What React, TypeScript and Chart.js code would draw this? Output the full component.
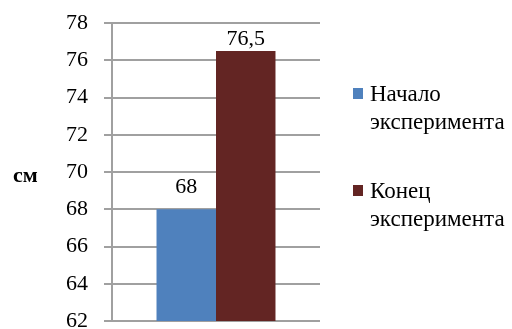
import React, { useEffect, useRef } from "react";
import { Chart, registerables } from "chart.js";

Chart.register(...registerables);

// Chart data
const categories: string[] = [""];
const seriesNames: string[][] = [["Начало", "эксперимента"], ["Конец", "эксперимента"]];
const startValues: number[] = [68];
const endValues: number[] = [76.5];
const seriesColors: string[] = ["#4F81BD", "#632523"];
const yMin = 62;
const yMax = 78;
const yStep = 2;
const unitLabel = "см";

const FONT = '"Liberation Serif", "Times New Roman", serif';

const formatValue = (v: number) => String(v).replace(".", ",");

// Value labels above each bar, the unit label and a two-line legend on the right
const decorations = {
  id: "decorations",
  afterDraw(chart: any) {
    const { ctx, chartArea } = chart;
    ctx.save();

    // value labels
    ctx.font = `22px ${FONT}`;
    ctx.fillStyle = "#000";
    ctx.textAlign = "center";
    ctx.textBaseline = "alphabetic";
    chart.data.datasets.forEach((ds: any, i: number) => {
      const meta = chart.getDatasetMeta(i);
      meta.data.forEach((bar: any, j: number) => {
        const y = Math.max(bar.y - 16, chartArea.top + 22);
        ctx.fillText(formatValue(ds.data[j]), bar.x, y);
      });
    });

    // unit label
    ctx.font = `bold 22px ${FONT}`;
    ctx.textAlign = "left";
    ctx.textBaseline = "middle";
    ctx.fillText(unitLabel, 13, (chartArea.top + chartArea.bottom) / 2 + 4);

    // legend
    const lx = chartArea.right + 33;
    const firstBaseline = 101;
    const entryGap = 97;
    const lineGap = 28;
    ctx.font = `23px ${FONT}`;
    ctx.textBaseline = "alphabetic";
    chart.data.datasets.forEach((ds: any, i: number) => {
      const base = firstBaseline + i * entryGap;
      ctx.fillStyle = ds.backgroundColor;
      ctx.fillRect(lx, base - 13, 10, 11);
      ctx.fillStyle = "#000";
      seriesNames[i].forEach((line, k) => {
        ctx.fillText(line, lx + 17, base + k * lineGap);
      });
    });

    ctx.restore();
  },
};

export default function App() {
  const canvasRef = useRef<HTMLCanvasElement | null>(null);

  useEffect(() => {
    document.body.style.margin = "0";
    const canvas = canvasRef.current;
    if (!canvas) return;
    const chart = new Chart(canvas, {
      type: "bar",
      data: {
        labels: categories,
        datasets: [
          {
            label: seriesNames[0].join(" "),
            data: startValues,
            backgroundColor: seriesColors[0],
            borderWidth: 0,
          },
          {
            label: seriesNames[1].join(" "),
            data: endValues,
            backgroundColor: seriesColors[1],
            borderWidth: 0,
          },
        ],
      },
      options: {
        animation: false,
        responsive: false,
        maintainAspectRatio: false,
        layout: { padding: { top: 23, right: 192, bottom: 8, left: 0 } },
        datasets: {
          bar: { categoryPercentage: 0.572, barPercentage: 1 },
        },
        plugins: {
          legend: { display: false },
          tooltip: { enabled: false },
        },
        scales: {
          x: {
            display: false,
            grid: { display: false },
          },
          y: {
            min: yMin,
            max: yMax,
            ticks: {
              stepSize: yStep,
              color: "#000",
              padding: 16,
              font: { family: FONT, size: 22 },
            },
            grid: {
              color: "#A0A0A0",
              lineWidth: 2,
              tickLength: 8,
            },
            border: { color: "#A0A0A0", width: 2 },
            afterFit(scale: any) {
              scale.width = 112;
              scale.paddingTop = 0;
              scale.paddingBottom = 0;
            },
          },
        },
      },
      plugins: [decorations],
    });
    let alive = true;
    Promise.all([
      document.fonts.load(`22px "Liberation Serif"`),
      document.fonts.load(`bold 22px "Liberation Serif"`),
    ])
      .then(() => {
        if (alive) chart.update();
      })
      .catch(() => {});
    return () => {
      alive = false;
      chart.destroy();
    };
  }, []);

  return (
    <div style={{ position: "fixed", left: 0, top: 0, width: 512, height: 329, background: "#fff" }}>
      <canvas ref={canvasRef} width={512} height={329} style={{ display: "block" }} />
    </div>
  );
}
